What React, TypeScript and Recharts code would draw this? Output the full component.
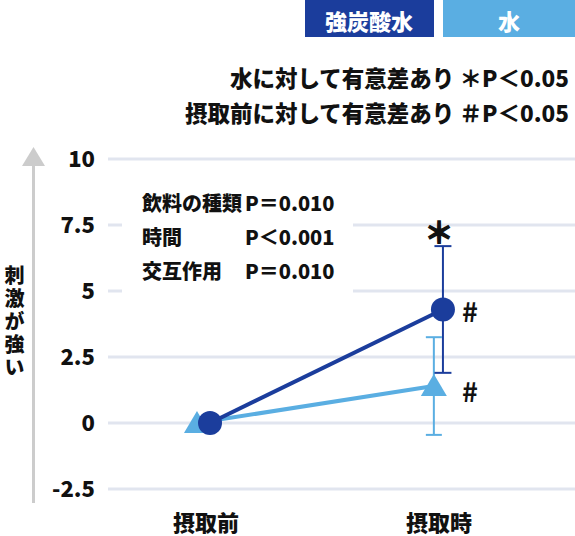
import React from 'react';
import { ComposedChart, Line, XAxis, YAxis, CartesianGrid, ErrorBar } from 'recharts';

// data
const phases = ['摂取前', '摂取時'];
const sodaMean = [0, 4.3];
const sodaErr = [0, 2.4];
const waterMean = [0, 1.4];
const waterErr = [0, 1.85];
const yTicks = [-2.5, 0, 2.5, 5, 7.5, 10];
const seriesNames = ['強炭酸水', '水'];
const statLabels = ['飲料の種類', '時間', '交互作用'];
const statValues = ['P＝0.010', 'P＜0.001', 'P＝0.010'];
const noteLines = ['水に対して有意差あり ＊P＜0.05', '摂取前に対して有意差あり ＃P＜0.05'];
const yTitle = '刺激が強い';

const DARK = '#1b3d9c';
const LIGHT = '#5aaee2';
const FONT = '"Noto Sans CJK JP", "Noto Sans", sans-serif';

// small horizontal dodge so the two series don't sit on top of each other
const waterShift = [-0.056, -0.039];

const sodaData = phases.map((_, i) => ({ x: i, y: sodaMean[i], err: sodaErr[i] }));
const waterData = phases.map((_, i) => ({ x: i + waterShift[i], y: waterMean[i], err: waterErr[i] }));

const Triangle = (props: any) => {
  const { cx, cy } = props;
  if (cx == null || cy == null) return null;
  return (
    <polygon
      key={props.key ?? `${cx}-${cy}`}
      points={`${cx - 13},${cy + 10} ${cx + 13},${cy + 10} ${cx},${cy - 12}`}
      fill={LIGHT}
    />
  );
};

const Dot = (props: any) => {
  const { cx, cy } = props;
  if (cx == null || cy == null) return null;
  return <circle key={props.key ?? `${cx}-${cy}`} cx={cx} cy={cy} r={12} fill={DARK} />;
};

const Decor = () => (
  <g fontFamily={FONT} fontWeight={900}>
    {/* legend boxes */}
    <rect x={305} y={0} width={129} height={37} fill={DARK} />
    <rect x={443} y={0} width={132} height={37} fill={LIGHT} />
    <text x={369} y={20} fill="#fff" fontSize={22} textAnchor="middle" dominantBaseline="central">{seriesNames[0]}</text>
    <text x={509} y={20} fill="#fff" fontSize={22} textAnchor="middle" dominantBaseline="central">{seriesNames[1]}</text>
    {noteLines.map((t, i) => (
      <text key={t} x={569} y={77 + i * 35} fontSize={22.5} textAnchor="end" dominantBaseline="central" fill="#111">{t}</text>
    ))}
    {/* y-axis arrow */}
    <line x1={33.5} y1={164} x2={33.5} y2={503} stroke="#cccccc" strokeWidth={3} />
    <polygon points="22,166 45,166 33.5,147" fill="#cccccc" />
    <text
      x={14.5}
      y={265}
      fontSize={20}
      letterSpacing={3}
      fill="#111"
      style={{ writingMode: 'vertical-rl' }}
    >
      {yTitle}
    </text>
    {/* stats box */}
    <rect x={122} y={185} width={231} height={112} fill="#fff" />
    {statLabels.map((t, i) => (
      <g key={t}>
        <text x={142} y={202 + i * 34} fontSize={20} dominantBaseline="central" fill="#111">{t}</text>
        <text x={245} y={202 + i * 34} fontSize={20} dominantBaseline="central" fill="#111">{statValues[i]}</text>
      </g>
    ))}
  </g>
);

const Marks = () => (
  <g fontFamily={FONT} fontWeight={700} fill="#111">
    <text x={439} y={231} fontSize={29} textAnchor="middle" dominantBaseline="central" stroke="#111" strokeWidth={1.4}>＊</text>
    <text x={470} y={310} fontSize={27} textAnchor="middle" dominantBaseline="central">#</text>
    <text x={470} y={390} fontSize={27} textAnchor="middle" dominantBaseline="central">#</text>
  </g>
);

export default function App() {
  return (
    <div style={{ position: 'absolute', left: 0, top: 0 }}>
      <ComposedChart width={575} height={536} margin={{ top: 159, right: 0, bottom: 0, left: 0 }}>
        <Decor />
        <CartesianGrid vertical={false} stroke="#e1e5ef" strokeWidth={3} />
        <XAxis
          dataKey="x"
          type="number"
          domain={[-0.438, 1.567]}
          ticks={[0, 1]}
          tickFormatter={(v: number) => phases[v]}
          axisLine={false}
          tickLine={false}
          tickSize={0}
          tickMargin={26}
          height={47}
          dx={-4}
          tick={{ fontSize: 22, fontWeight: 900, fill: '#111', fontFamily: FONT }}
        />
        <YAxis
          type="number"
          domain={[-2.5, 10]}
          ticks={yTicks}
          allowDataOverflow
          axisLine={false}
          tickLine={false}
          tickSize={0}
          tickMargin={13}
          width={108}
          tick={{ fontSize: 22, fontWeight: 900, fill: '#111', fontFamily: FONT }}
        />
        <Line
          data={waterData}
          dataKey="y"
          stroke={LIGHT}
          strokeWidth={4}
          dot={Triangle}
          activeDot={false}
          isAnimationActive={false}
        >
          <ErrorBar dataKey="err" direction="y" width={8} stroke={LIGHT} strokeWidth={2} isAnimationActive={false} />
        </Line>
        <Line
          data={sodaData}
          dataKey="y"
          stroke={DARK}
          strokeWidth={4}
          dot={Dot}
          activeDot={false}
          isAnimationActive={false}
        >
          <ErrorBar dataKey="err" direction="y" width={8.5} stroke={DARK} strokeWidth={2} isAnimationActive={false} />
        </Line>
        <Marks />
      </ComposedChart>
    </div>
  );
}
